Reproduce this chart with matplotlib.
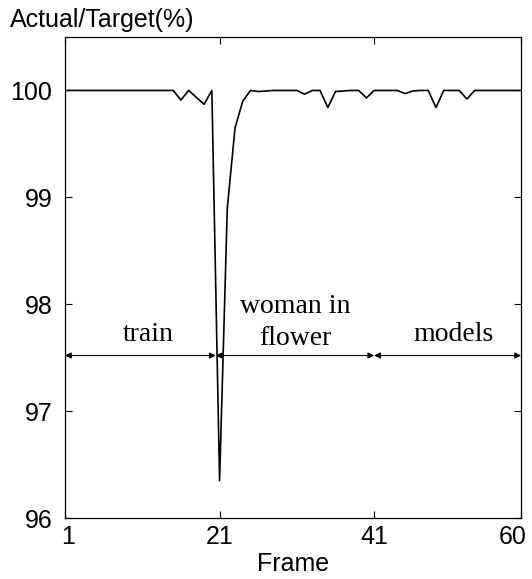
import matplotlib
matplotlib.use("Agg")
import matplotlib.pyplot as plt
import matplotlib.transforms as mtransforms
import numpy as np

frames = list(range(1, 61))
ratio = [100, 100, 100, 100, 100, 100, 100, 100, 100, 100,
         100, 100, 100, 100, 100, 99.91, 100, 99.935, 99.87, 100,
         96.35, 98.9, 99.65, 99.9, 100, 99.99, 99.995, 100, 100, 100,
         100, 99.965, 100, 100, 99.84, 99.99, 99.995, 100, 100, 99.93,
         100, 100, 100, 100, 99.97, 99.995, 100, 100, 99.84, 100,
         100, 100, 99.92, 100, 100, 100, 100, 100, 100, 100]

x_ticks = [1, 21, 41, 60]
y_ticks = [96, 97, 98, 99, 100]
segments = [(1, 20.5), (20.5, 41), (41, 60)]
seg_texts = ["train", "woman in", "flower", "models"]
seg_text_pos = [(11.8, 97.66), (30.8, 97.92), (30.8, 97.62), (51.3, 97.66)]
arrow_y = 97.52

sans = "Liberation Sans"
serif = "Liberation Serif"

fig = plt.figure(figsize=(5.32, 5.79), dpi=100)
ax = fig.add_axes([65/532, 1-518/579, (521-65)/532, (518-37)/579])

ax.plot(frames, ratio, color="black", lw=1.2)

ax.set_xlim(1, 60)
ax.set_ylim(96, 100.5)
ax.set_xticks(x_ticks)
ax.set_yticks(y_ticks)
ax.set_xticklabels([str(v) for v in x_ticks], fontfamily=sans, fontsize=18)
ax.set_yticklabels([str(v) for v in y_ticks], fontfamily=sans, fontsize=18)
ax.tick_params(direction="in", length=5, width=0.8, top=True, right=True)
ax.tick_params(axis="x", pad=5)
ax.tick_params(axis="y", pad=9)
for s in ax.spines.values():
    s.set_linewidth(0.9)

# nudge end tick labels
lbls = ax.get_xticklabels()
lbls[0].set_transform(lbls[0].get_transform() + mtransforms.ScaledTranslation(3/100, 0, fig.dpi_scale_trans))
lbls[-1].set_transform(lbls[-1].get_transform() + mtransforms.ScaledTranslation(-8/100, 0, fig.dpi_scale_trans))

ax.set_xlabel("Frame", fontfamily=sans, fontsize=18, labelpad=2)
fig.text(10/532, 1-27/579, "Actual/Target(%)", fontfamily=sans, fontsize=18,
         ha="left", va="baseline")

for x0, x1 in segments:
    ax.annotate("", xy=(x1, arrow_y), xytext=(x0, arrow_y),
                arrowprops=dict(arrowstyle="<|-|>", color="black", lw=0.8,
                                mutation_scale=9, shrinkA=0, shrinkB=0))
for label, (tx, ty) in zip(seg_texts, seg_text_pos):
    ax.text(tx, ty, label, fontfamily=serif, fontsize=20, ha="center",
            va="baseline")

fig.savefig("out.png", dpi=100)
